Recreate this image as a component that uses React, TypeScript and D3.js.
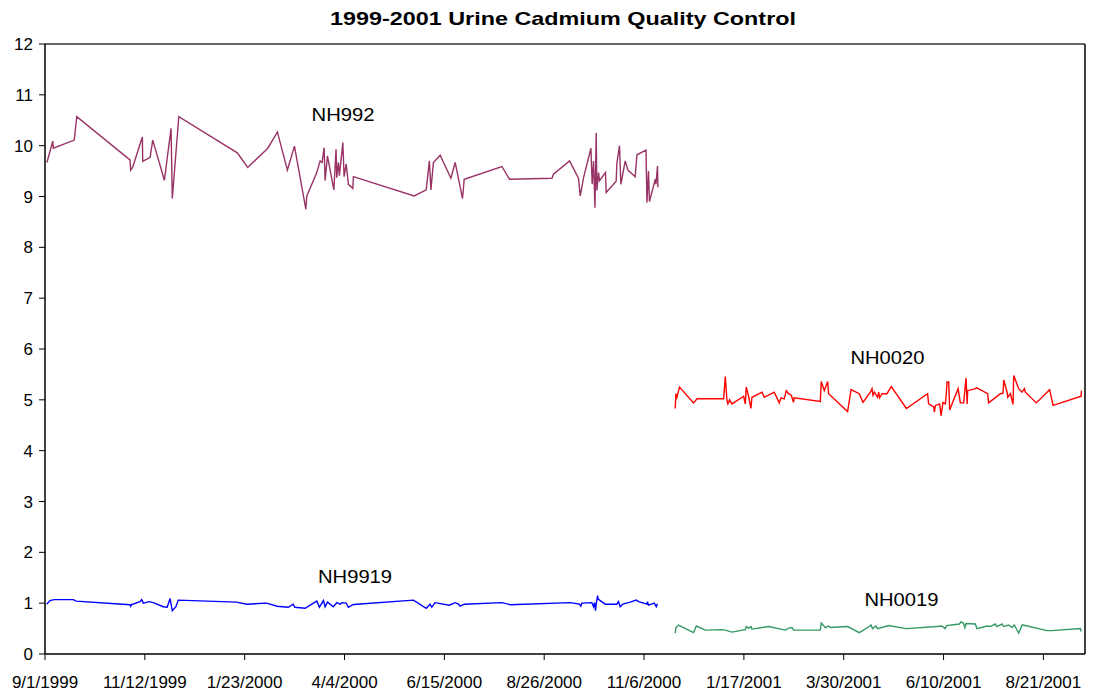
import React from "react";
import * as d3 from "d3";

const TITLE = "1999-2001 Urine Cadmium Quality Control";
const START = "1999-09-01";
const END = "2001-09-20";
const TICK_STEP_DAYS = 72;
const yTicks = [0, 1, 2, 3, 4, 5, 6, 7, 8, 9, 10, 11, 12];

// days since 9/1/1999
const nh992Days = [1.4, 5.6, 6.0, 21.1, 22.9, 61.3, 61.8, 63.3, 70.2, 70.5, 75.8, 77.7, 86.1, 90.9, 91.8, 96.5, 138.7, 146.2, 160.7, 167.6, 174.8, 179.9, 188.1, 188.8, 196.0, 198.4, 199.8, 201.3, 202.0, 203.7, 208.3, 209.9, 210.4, 211.6, 212.3, 214.8, 215.7, 217.2, 218.8, 222.0, 222.4, 266.2, 274.9, 277.2, 278.3, 280.1, 285.0, 292.7, 295.8, 301.1, 302.3, 329.5, 335.0, 365.6, 366.7, 378.3, 384.7, 386.0, 388.4, 393.7, 394.6, 395.6, 396.6, 397.5, 398.0, 399.2, 399.9, 404.2, 404.7, 411.9, 412.4, 414.3, 415.3, 418.4, 420.4, 425.6, 426.9, 433.4, 434.1, 435.2, 435.9, 440.1, 440.6, 441.7, 442.0];
const nh992Values = [9.67, 10.09, 9.95, 10.11, 10.57, 9.72, 9.52, 9.58, 10.17, 9.69, 9.77, 10.11, 9.32, 10.34, 8.96, 10.57, 9.86, 9.57, 9.95, 10.27, 9.52, 9.99, 8.75, 9.01, 9.47, 9.70, 9.67, 9.96, 9.31, 9.80, 9.13, 9.93, 9.37, 9.67, 9.41, 10.06, 9.39, 9.64, 9.24, 9.16, 9.39, 9.01, 9.13, 9.70, 9.13, 9.67, 9.81, 9.36, 9.67, 8.96, 9.34, 9.59, 9.34, 9.36, 9.44, 9.70, 9.36, 9.01, 9.37, 9.95, 9.24, 9.70, 8.78, 10.25, 9.12, 9.47, 9.31, 9.47, 9.08, 9.30, 9.65, 10.0, 9.24, 9.70, 9.52, 9.39, 9.82, 9.91, 8.88, 9.50, 8.90, 9.34, 9.24, 9.60, 9.18];

const nh9919Days = [1.2, 3.6, 6.5, 20.4, 22.4, 61.3, 61.8, 62.5, 68.5, 69.7, 70.9, 75.2, 78.1, 85.3, 88.1, 90.2, 91.8, 94.4, 96.1, 138.2, 145.4, 159.8, 167.4, 175.4, 179.0, 180.2, 187.6, 196.0, 197.9, 200.8, 202.0, 203.7, 208.0, 210.4, 212.8, 214.0, 217.2, 218.8, 221.9, 224.8, 265.7, 274.9, 277.7, 278.9, 281.3, 291.6, 295.8, 298.2, 299.4, 302.3, 329.5, 335.5, 378.8, 385.4, 386.4, 387.1, 394.4, 395.6, 396.3, 397.0, 397.5, 398.5, 398.9, 404.0, 412.4, 413.6, 414.8, 416.7, 422.0, 426.4, 428.1, 434.1, 434.5, 435.2, 439.3, 440.8, 441.7];
const nh9919Values = [0.98, 1.05, 1.07, 1.07, 1.04, 0.97, 0.94, 0.97, 1.03, 1.07, 1.00, 1.03, 1.01, 0.93, 0.92, 1.09, 0.85, 0.93, 1.06, 1.02, 0.98, 1.00, 0.94, 0.92, 0.98, 0.92, 0.90, 1.04, 0.92, 1.05, 0.93, 1.02, 0.93, 1.01, 0.98, 1.01, 1.00, 0.92, 0.97, 0.98, 1.06, 0.90, 0.98, 0.92, 1.01, 0.96, 1.01, 0.98, 0.94, 0.98, 1.01, 0.97, 1.01, 0.98, 0.94, 1.00, 1.01, 0.93, 1.01, 0.85, 0.98, 1.15, 1.08, 0.98, 0.98, 1.03, 0.93, 0.98, 1.02, 1.06, 1.03, 0.98, 1.03, 0.96, 1.00, 0.93, 0.99];

const nh0020Days = [454.5, 455.0, 455.7, 457.6, 467.7, 470.2, 489.4, 490.6, 491.8, 492.5, 493.7, 495.4, 503.8, 505.0, 505.7, 507.4, 509.1, 509.8, 517.1, 518.7, 525.9, 529.5, 530.8, 533.1, 534.6, 536.2, 538.2, 539.8, 540.3, 559.1, 559.8, 562.0, 564.4, 565.1, 578.8, 581.3, 587.2, 589.9, 595.2, 596.4, 597.1, 598.1, 600.4, 601.2, 601.9, 603.6, 607.2, 610.3, 621.2, 636.5, 637.2, 640.9, 641.4, 642.1, 645.2, 646.2, 647.6, 649.3, 650.0, 650.5, 651.7, 652.4, 654.1, 658.5, 660.1, 662.5, 664.2, 665.0, 665.4, 670.9, 671.7, 679.8, 680.5, 689.0, 690.9, 691.4, 693.8, 694.3, 696.2, 698.1, 698.6, 702.2, 704.6, 706.3, 707.0, 714.9, 724.5, 727.0, 747.2, 747.4];
const nh0020Values = [4.83, 5.12, 5.05, 5.25, 4.94, 5.02, 5.02, 5.46, 4.99, 4.92, 5.00, 4.92, 5.07, 4.92, 5.25, 5.07, 4.83, 5.05, 5.15, 5.05, 5.15, 4.94, 5.04, 5.02, 5.18, 5.12, 5.09, 4.95, 5.04, 4.97, 5.36, 5.18, 5.36, 5.12, 4.77, 5.20, 5.12, 4.95, 5.15, 5.22, 5.09, 5.15, 5.05, 5.15, 5.04, 5.12, 5.12, 5.26, 4.83, 5.12, 4.92, 4.86, 4.76, 4.89, 4.92, 4.69, 4.95, 4.92, 5.12, 5.35, 5.35, 4.80, 4.92, 5.22, 4.94, 4.94, 5.43, 4.92, 5.18, 5.22, 5.24, 5.12, 4.94, 5.12, 5.13, 5.39, 5.15, 5.05, 5.12, 4.91, 5.48, 5.22, 5.15, 5.22, 5.15, 4.94, 5.20, 4.89, 5.07, 5.18];

const nh0019Days = [454.5, 455.0, 456.9, 460.5, 467.7, 469.7, 476.2, 488.2, 490.6, 495.4, 505.0, 505.7, 507.4, 509.1, 509.8, 521.9, 533.9, 536.2, 538.7, 539.8, 559.1, 559.8, 562.7, 565.1, 566.3, 578.8, 587.2, 594.4, 595.6, 596.8, 599.2, 600.4, 608.4, 620.9, 643.1, 646.7, 649.1, 650.3, 659.4, 660.6, 662.3, 663.4, 664.2, 670.9, 672.1, 679.3, 681.7, 685.3, 686.5, 690.1, 691.3, 694.9, 697.3, 699.0, 702.2, 704.6, 705.3, 722.6, 726.2, 746.7, 747.2];
const nh0019Values = [0.41, 0.52, 0.57, 0.52, 0.42, 0.55, 0.47, 0.48, 0.47, 0.43, 0.48, 0.54, 0.51, 0.54, 0.49, 0.54, 0.47, 0.51, 0.52, 0.47, 0.47, 0.61, 0.52, 0.55, 0.52, 0.54, 0.42, 0.54, 0.57, 0.50, 0.55, 0.50, 0.56, 0.50, 0.54, 0.55, 0.50, 0.56, 0.59, 0.63, 0.61, 0.52, 0.60, 0.59, 0.50, 0.55, 0.54, 0.59, 0.54, 0.59, 0.54, 0.57, 0.52, 0.57, 0.41, 0.57, 0.57, 0.46, 0.46, 0.50, 0.44];

const seriesNames = ["NH992", "NH9919", "NH0020", "NH0019"];
const seriesColors = ["#993366", "#0000FF", "#FF0000", "#339966"];
const labelPos = [
  { day: 215, value: 10.49 },
  { day: 223.6, value: 1.39 },
  { day: 607.5, value: 5.7 },
  { day: 617.6, value: 0.94 },
];

const W = 1093;
const H = 694;
const M = { left: 45, right: 1085, top: 44, bottom: 654 };
const FONT = "Arial, 'Liberation Sans', Helvetica, sans-serif";

export default function App() {
  const start = new Date(START + "T00:00:00Z");
  const end = new Date(END + "T00:00:00Z");
  const x = d3.scaleUtc().domain([start, end]).range([M.left, M.right]);
  const y = d3.scaleLinear().domain([0, 12]).range([M.bottom, M.top]);
  const toDate = (d: number) => new Date(start.getTime() + d * 86400000);

  const xTicks: Date[] = [];
  for (let d = start; d <= end; d = d3.utcDay.offset(d, TICK_STEP_DAYS)) xTicks.push(d);
  const fmt = d3.utcFormat("%-m/%-d/%Y");

  const series = [
    { days: nh992Days, values: nh992Values },
    { days: nh9919Days, values: nh9919Values },
    { days: nh0020Days, values: nh0020Values },
    { days: nh0019Days, values: nh0019Values },
  ];
  const line = d3
    .line<[number, number]>()
    .x((p) => x(toDate(p[0])))
    .y((p) => y(p[1]));

  return (
    <svg width={W} height={H} style={{ display: "block", position: "absolute", left: 0, top: 0 }} fontFamily={FONT}>
      <rect x={0} y={0} width={W} height={H} fill="#fff" />
      <text x={563} y={25} textAnchor="middle" fontSize={19} fontWeight="bold" textLength={466} lengthAdjust="spacingAndGlyphs">
        {TITLE}
      </text>
      <line x1={M.left} x2={M.right} y1={M.top} y2={M.top} stroke="#666" strokeWidth={2} />
      <line x1={M.right} x2={M.right} y1={M.top} y2={M.bottom} stroke="#000" strokeWidth={1.5} />
      {series.map((s, i) => (
        <path
          key={i}
          d={line(s.days.map((d, j) => [d, s.values[j]] as [number, number])) || ""}
          fill="none"
          stroke={seriesColors[i]}
          strokeWidth={1.4}
          strokeLinejoin="miter"
        />
      ))}
      {seriesNames.map((n, i) => (
        <text
          key={n}
          x={x(toDate(labelPos[i].day))}
          y={y(labelPos[i].value)}
          textAnchor="middle"
          fontSize={19}
          textLength={n.length === 5 ? 63 : 74}
          lengthAdjust="spacingAndGlyphs"
        >
          {n}
        </text>
      ))}
      <line x1={M.left} x2={M.left} y1={M.top} y2={M.bottom} stroke="#000" strokeWidth={1.5} />
      {yTicks.map((t) => (
        <g key={t}>
          <line x1={M.left - 6} x2={M.left} y1={y(t)} y2={y(t)} stroke="#000" strokeWidth={1} />
          <text x={M.left - 12} y={y(t) + 6} textAnchor="end" fontSize={17}>
            {t}
          </text>
        </g>
      ))}
      <line x1={M.left} x2={M.right} y1={M.bottom} y2={M.bottom} stroke="#000" strokeWidth={1.5} />
      {xTicks.map((t, i) => (
        <g key={i}>
          <line x1={x(t)} x2={x(t)} y1={M.bottom} y2={M.bottom + 6} stroke="#000" strokeWidth={1} />
          <text x={x(t)} y={M.bottom + 34} textAnchor="middle" fontSize={17}>
            {fmt(t)}
          </text>
        </g>
      ))}
    </svg>
  );
}
